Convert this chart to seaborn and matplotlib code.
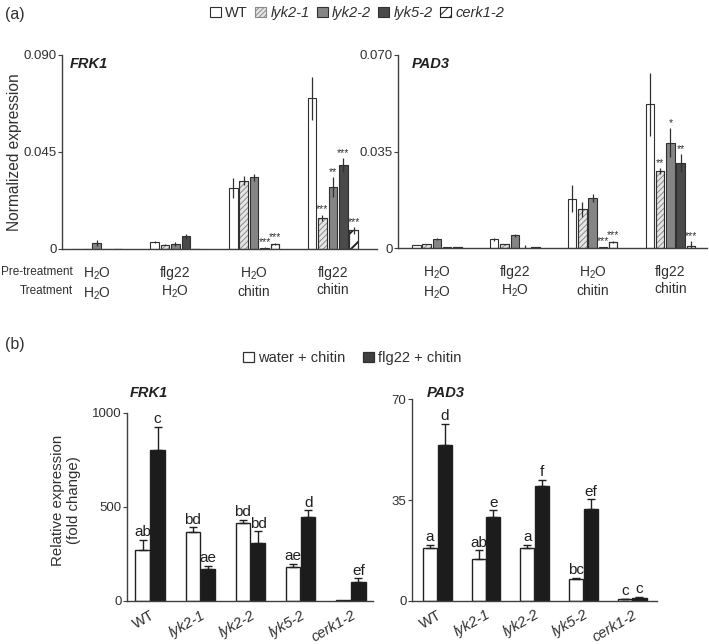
import pandas as pd
import matplotlib
matplotlib.use("Agg")
import matplotlib.pyplot as plt
from matplotlib.patches import Patch
import seaborn as sns

# ---- data ----
genotypes = ["WT", "lyk2-1", "lyk2-2", "lyk5-2", "cerk1-2"]
treat_keys = ["H2O/H2O", "flg22/H2O", "H2O/chitin", "flg22/chitin"]
treat_labels = ["H$_2$O\nH$_2$O", "flg22\nH$_2$O", "H$_2$O\nchitin", "flg22\nchitin"]

# panel (a): rows = genotype, columns = treatment
frk1_mean = [[0.0002, 0.0032, 0.0284, 0.0700],
             [0.0001, 0.0020, 0.0317, 0.0144],
             [0.0028, 0.0023, 0.0332, 0.0288],
             [0.0001, 0.0058, 0.0006, 0.0388],
             [0.0002, 0.0002, 0.0023, 0.0086]]
frk1_err = [[0.0, 0.0006, 0.0046, 0.0100],
            [0.0, 0.0002, 0.0020, 0.0015],
            [0.0012, 0.0008, 0.0015, 0.0045],
            [0.0, 0.0010, 0.0002, 0.0032],
            [0.0, 0.0, 0.0005, 0.0015]]
frk1_stars = [["", "", "", ""],
              ["", "", "", "***"],
              ["", "", "", "**"],
              ["", "", "***", "***"],
              ["", "", "***", "***"]]

pad3_mean = [[0.0011, 0.0031, 0.0178, 0.0521],
             [0.0014, 0.0014, 0.0140, 0.0279],
             [0.0033, 0.0046, 0.0181, 0.0382],
             [0.0004, 0.0001, 0.0003, 0.0307],
             [0.0004, 0.0003, 0.0022, 0.0009]]
pad3_err = [[0.0, 0.0006, 0.0049, 0.0115],
            [0.0, 0.0002, 0.0028, 0.0010],
            [0.0005, 0.0006, 0.0014, 0.0053],
            [0.0, 0.0009, 0.0001, 0.0033],
            [0.0, 0.0, 0.0005, 0.0015]]
pad3_stars = [["", "", "", ""],
              ["", "", "", "**"],
              ["", "", "", "*"],
              ["", "", "***", "**"],
              ["", "", "***", "***"]]

# panel (b)
conditions = ["water + chitin", "flg22 + chitin"]
frk1_b_water = [271, 366, 412, 183, 3]
frk1_b_water_err = [53, 25, 18, 14, 0]
frk1_b_flg22 = [802, 172, 310, 445, 99]
frk1_b_flg22_err = [124, 14, 59, 37, 22]
frk1_b_water_let = ["ab", "bd", "bd", "ae", ""]
frk1_b_flg22_let = ["c", "ae", "bd", "d", "ef"]

pad3_b_water = [18.5, 14.4, 18.5, 7.4, 0.6]
pad3_b_water_err = [1.0, 3.1, 1.0, 0.5, 0.1]
pad3_b_flg22 = [54.1, 29.0, 39.9, 31.9, 1.0]
pad3_b_flg22_err = [7.4, 2.4, 2.2, 3.3, 0.3]
pad3_b_water_let = ["a", "ab", "a", "bc", "c"]
pad3_b_flg22_let = ["d", "e", "f", "ef", "c"]

# ---- style ----
sns.set_theme(style="ticks")
plt.rcParams["font.family"] = ["Liberation Sans", "DejaVu Sans"]
plt.rcParams["mathtext.fontset"] = "custom"
plt.rcParams["mathtext.rm"] = "Liberation Sans"
plt.rcParams["mathtext.it"] = "Liberation Sans:italic"
plt.rcParams["hatch.linewidth"] = 0.7

EDGE = "#303030"
TXT = "#303030"
a_colors = {"WT": "white", "lyk2-1": "#e6e6e6", "lyk2-2": "#858585",
            "lyk5-2": "#4a4a4a", "cerk1-2": "white"}
a_hatch = {"lyk2-1": ("//////", "#8a8a8a"), "cerk1-2": ("//", "#202020")}
b_colors = {"water + chitin": "white", "flg22 + chitin": "#1c1c1c"}


def style_axis(ax):
    sns.despine(ax=ax)
    for s in ["left", "bottom"]:
        ax.spines[s].set_color("#404040")
        ax.spines[s].set_linewidth(1.0)
    ax.tick_params(axis="y", length=3, width=0.8, color="#404040",
                   labelcolor=TXT, pad=1)
    ax.tick_params(axis="x", length=0, labelcolor=TXT)
    ax.set_xlabel("")
    ax.set_ylabel("")


def panel_a(ax, means, errs, stars, ymax, ticklabels, gene, xlim, gx):
    rows = []
    for g, m in zip(genotypes, means):
        for t, v in zip(treat_keys, m):
            rows.append({"treat": t, "genotype": g, "value": v})
    df = pd.DataFrame(rows)
    sns.barplot(data=df, x="treat", y="value", hue="genotype",
                order=treat_keys, hue_order=genotypes, palette=a_colors,
                width=0.66, gap=0.18, errorbar=None, legend=False,
                edgecolor=EDGE, linewidth=0.8, ax=ax)
    bar_conts = list(ax.containers)
    for gi, cont in enumerate(bar_conts):
        g = genotypes[gi]
        for ti, bar in enumerate(cont):
            if g in a_hatch:
                h, hc = a_hatch[g]
                bar.set_hatch(h)
                bar.set_edgecolor(hc)
                if g == "cerk1-2" and hasattr(bar, "set_hatch_linewidth"):
                    bar.set_hatch_linewidth(1.4)
                ax.add_patch(plt.Rectangle(bar.get_xy(), bar.get_width(),
                                           bar.get_height(), fill=False,
                                           edgecolor=EDGE, linewidth=0.8))
            x = bar.get_x() + bar.get_width() / 2
            hgt = bar.get_height()
            e = errs[gi][ti]
            if e > 0:
                ax.errorbar(x, hgt, yerr=e, fmt="none", ecolor="#303030",
                            elinewidth=0.9, capsize=0)
            if stars[gi][ti]:
                ax.text(x, hgt + e + ymax * 0.002, stars[gi][ti],
                        ha="center", va="bottom", fontsize=7.5, color=TXT)
    ax.set_ylim(0, ymax)
    ax.set_xlim(*xlim)
    ax.set_yticks([0, ymax / 2, ymax])
    ax.set_yticklabels(ticklabels, fontsize=9.5)
    ax.set_xticks(range(len(treat_keys)))
    ax.set_xticklabels(treat_labels, fontsize=10, linespacing=1.3)
    style_axis(ax)
    ax.tick_params(axis="x", pad=12)
    ax.text(gx, 0.955, gene, transform=ax.transAxes, fontsize=10.5,
            fontweight="bold", fontstyle="italic", ha="left", va="center",
            color="#202020")


def panel_b(ax, water, water_err, flg, flg_err, wl, fl, ymax, ticks,
            gene, gpos, xlim):
    df = pd.DataFrame({
        "genotype": genotypes * 2,
        "cond": [conditions[0]] * 5 + [conditions[1]] * 5,
        "value": water + flg,
    })
    sns.barplot(data=df, x="genotype", y="value", hue="cond",
                order=genotypes, hue_order=conditions, palette=b_colors,
                width=0.6, gap=0.04, errorbar=None, legend=False,
                edgecolor="#202020", linewidth=1.0, ax=ax)
    errs = [water_err, flg_err]
    lets = [wl, fl]
    bar_conts = list(ax.containers)
    for ci, cont in enumerate(bar_conts):
        for gi, bar in enumerate(cont):
            x = bar.get_x() + bar.get_width() / 2
            hgt = bar.get_height()
            e = errs[ci][gi]
            if e > 0:
                ax.errorbar(x, hgt, yerr=[[0], [e]], fmt="none",
                            ecolor="#202020", elinewidth=1.0, capsize=3,
                            capthick=1.0)
            if lets[ci][gi]:
                ax.text(x, hgt + e + ymax * 0.003, lets[ci][gi],
                        ha="center", va="bottom", fontsize=11,
                        color="#202020")
    ax.set_ylim(0, ymax)
    ax.set_xlim(*xlim)
    ax.set_yticks(ticks)
    ax.set_yticklabels([str(t) for t in ticks], fontsize=9.5)
    ax.set_xticks(range(len(genotypes)))
    ax.set_xticklabels(genotypes, rotation=30, ha="right",
                       rotation_mode="anchor", fontsize=10.5)
    for lab in ax.get_xticklabels():
        if lab.get_text() != "WT":
            lab.set_fontstyle("italic")
    style_axis(ax)
    ax.tick_params(axis="x", pad=5)
    ax.text(gpos[0], gpos[1], gene, transform=ax.transAxes, fontsize=10.5,
            fontweight="bold", fontstyle="italic", ha="left", va="center",
            color="#202020")


fig = plt.figure(figsize=(7.09, 6.44), dpi=100)

ax1 = fig.add_axes([0.0874, 0.6134, 0.4443, 0.3012])
ax2 = fig.add_axes([0.5614, 0.6149, 0.4358, 0.2997])
ax3 = fig.add_axes([0.1791, 0.0668, 0.3470, 0.2924])
ax4 = fig.add_axes([0.5811, 0.0672, 0.3456, 0.3127])

panel_a(ax1, frk1_mean, frk1_err, frk1_stars, 0.090,
        ["0", "0.045", "0.090"], "FRK1", (-0.44, 3.56), 0.025)
panel_a(ax2, pad3_mean, pad3_err, pad3_stars, 0.070,
        ["0", "0.035", "0.070"], "PAD3", (-0.5, 3.47), 0.045)

panel_b(ax3, frk1_b_water, frk1_b_water_err, frk1_b_flg22, frk1_b_flg22_err,
        frk1_b_water_let, frk1_b_flg22_let, 1000, [0, 500, 1000], "FRK1",
        (0.012, 1.105), (-0.46, 4.44))
panel_b(ax4, pad3_b_water, pad3_b_water_err, pad3_b_flg22, pad3_b_flg22_err,
        pad3_b_water_let, pad3_b_flg22_let, 70, [0, 35, 70], "PAD3",
        (0.06, 1.03), (-0.52, 4.51))

# labels outside axes
fig.text(5 / 709, 1 - 15 / 644, "(a)", fontsize=11.5, va="center", color=TXT)
fig.text(5 / 709, 1 - 345 / 644, "(b)", fontsize=11.5, va="center", color=TXT)
fig.text(15 / 709, 1 - 152 / 644, "Normalized expression", rotation=90,
         fontsize=11.2, ha="center", va="center", color=TXT)
fig.text(66 / 709, 1 - 500 / 644, "Relative expression\n(fold change)",
         rotation=90, fontsize=10.8, ha="center", va="center", color=TXT,
         linespacing=1.1)
fig.text(73 / 709, 1 - 272 / 644, "Pre-treatment", fontsize=8.5,
         ha="right", va="center", color=TXT)
fig.text(73 / 709, 1 - 291 / 644, "Treatment", fontsize=8.5,
         ha="right", va="center", color=TXT)

# legends
handles_a = []
for g in genotypes:
    if g in a_hatch:
        handles_a.append(Patch(facecolor=a_colors[g], edgecolor=a_hatch[g][1],
                               hatch=a_hatch[g][0] + "/", linewidth=0.8))
    else:
        handles_a.append(Patch(facecolor=a_colors[g], edgecolor=EDGE,
                               linewidth=0.8))
leg_a = fig.legend(handles_a, genotypes, loc="center",
                   bbox_to_anchor=(357 / 709, 1 - 13 / 644), ncol=5,
                   frameon=False, fontsize=10.5, handlelength=0.75,
                   handleheight=0.75, handletextpad=0.3, columnspacing=0.5,
                   borderpad=0)
for t in leg_a.get_texts():
    t.set_color(TXT)
    if t.get_text() != "WT":
        t.set_fontstyle("italic")

handles_b = [Patch(facecolor="white", edgecolor=EDGE, linewidth=0.9),
             Patch(facecolor="#404040", edgecolor=EDGE, linewidth=0.9)]
leg_b = fig.legend(handles_b, conditions, loc="center",
                   bbox_to_anchor=(352 / 709, 1 - 358 / 644), ncol=2,
                   frameon=False, fontsize=10.5, handlelength=0.75,
                   handleheight=0.75, handletextpad=0.3, columnspacing=1.2,
                   borderpad=0)
for t in leg_b.get_texts():
    t.set_color(TXT)

fig.savefig("out.png", dpi=100)
